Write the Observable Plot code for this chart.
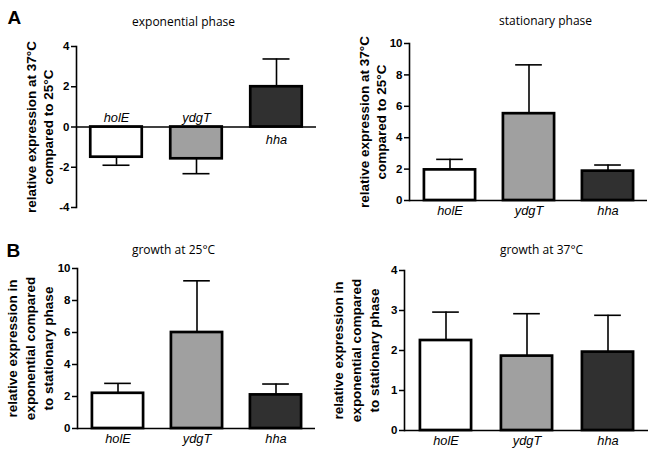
<!DOCTYPE html>
<html>
<head>
<meta charset="utf-8">
<script src="https://cdn.jsdelivr.net/npm/d3@7"></script>
<script src="https://cdn.jsdelivr.net/npm/@observablehq/plot@0.6"></script>
<style>
  html, body { margin: 0; padding: 0; background: #fff; }
  #wrap { position: relative; width: 650px; height: 451px; overflow: hidden; }
  .panel { position: absolute; }
  .panel svg { overflow: visible; }
  g[aria-label="y-axis tick label"] { font-weight: bold; font-family: "Liberation Sans", Arial, sans-serif; }
  g[aria-label="x-axis tick label"] { font-style: italic; font-family: "Liberation Sans", Arial, sans-serif; }
</style>
</head>
<body>
<div id="wrap"></div>
<script>
// ---- data ----
const genes = ["holE", "ydgT", "hha"];
const fills = ["#ffffff", "#a0a0a0", "#303030"];

const expTitle = "exponential phase";
const expMean = [-1.5, -1.58, 2.0];
const expErr = [-1.9, -2.32, 3.38];
const expTicks = [-4, -2, 0, 2, 4];

const statTitle = "stationary phase";
const statMean = [1.95, 5.53, 1.87];
const statErr = [2.62, 8.64, 2.26];
const statTicks = [0, 2, 4, 6, 8, 10];

const g25Title = "growth at 25°C";
const g25Mean = [2.2, 6.0, 2.1];
const g25Err = [2.82, 9.23, 2.78];
const g25Ticks = [0, 2, 4, 6, 8, 10];

const g37Title = "growth at 37°C";
const g37Mean = [2.25, 1.86, 1.96];
const g37Err = [2.96, 2.92, 2.88];
const g37Ticks = [0, 1, 2, 3, 4];

const labelA = "relative expression at 37°C\ncompared to 25°C";
const labelB = "relative expression in\nexponential compared\nto stationary phase";

// ---- drawing ----
const sans = "'Liberation Sans', Arial, sans-serif";

function panel(o) {
  const rows = genes.map((g, i) => ({gene: g, mean: o.mean[i], err: o.err[i], fill: fills[i]}));
  const fw = o.width - o.ml - o.mr;
  const band = fw / genes.length;
  const barInset = (band - 51.5) / 2;
  const capInset = (band - 27) / 2;
  const marks = [
    Plot.ruleX(rows, {x: "gene", y1: "mean", y2: "err", stroke: "black", strokeWidth: 1.6}),
    Plot.tickY(rows, {x: "gene", y: "err", stroke: "black", strokeWidth: 1.6, insetLeft: capInset, insetRight: capInset}),
    Plot.barY(rows, {x: "gene", y1: 0, y2: "mean", fill: "fill", stroke: "black", strokeWidth: 2.7, insetLeft: barInset, insetRight: barInset}),
    Plot.ruleY([0], {stroke: "black", strokeWidth: 1.6}),
    Plot.frame({anchor: "left", stroke: "black", strokeWidth: 1.6}),
    Plot.axisY({ticks: o.ticks, tickFormat: d => String(d), tickSize: 5, tickPadding: 2, label: null, fontSize: 11.5, fontWeight: "bold", strokeWidth: 1.5}),
    Plot.text([o.label], {frameAnchor: "left", rotate: -90, dx: o.labelDx, textAnchor: "middle", lineAnchor: "middle", lineHeight: o.lh, fontSize: 13.5, fontWeight: "bold", fontFamily: sans, text: d => d}),
    Plot.text([o.title], {frameAnchor: "top", dx: o.titleDx, dy: o.titleDy, textAnchor: "middle", lineAnchor: "middle", fontSize: 12, fontFamily: "'Open Sans', sans-serif", text: d => d})
  ];
  if (o.inline) {
    marks.push(Plot.text(rows.filter(d => d.mean < 0), {x: "gene", y: 0, text: "gene", lineAnchor: "bottom", dy: -5, fontSize: 12.8, fontStyle: "italic", fontFamily: sans}));
    marks.push(Plot.text(rows.filter(d => d.mean >= 0), {x: "gene", y: 0, text: "gene", lineAnchor: "top", dy: 8, fontSize: 12.8, fontStyle: "italic", fontFamily: sans}));
  } else {
    marks.push(Plot.axisX({tickSize: 0, tickPadding: 5, label: null, fontSize: 12.8}));
  }
  if (o.letter) {
    marks.push(Plot.text([o.letter], {frameAnchor: "top-left", dx: o.letterX - o.ml, dy: o.letterY - o.mt, textAnchor: "start", lineAnchor: "bottom", fontSize: 19, fontWeight: "bold", fontFamily: sans, text: d => d}));
  }
  const chart = Plot.plot({
    width: o.width, height: o.height,
    marginLeft: o.ml, marginRight: o.mr, marginTop: o.mt, marginBottom: o.mb,
    style: {fontFamily: sans, fontSize: "11px", color: "black", background: "transparent"},
    x: {domain: genes, padding: 0, axis: null},
    y: {domain: o.domain, axis: null},
    marks
  });
  const div = document.createElement("div");
  div.className = "panel";
  div.style.left = o.left + "px";
  div.style.top = o.top + "px";
  div.appendChild(chart);
  document.getElementById("wrap").appendChild(div);
}

panel({left: 0, top: 0, width: 325, height: 225, ml: 76, mr: 9, mt: 46, mb: 18,
  mean: expMean, err: expErr, ticks: expTicks, domain: [-4, 4], title: expTitle, titleDx: -13, titleDy: -24,
  label: labelA, labelDx: -37, lh: 1.25, inline: true, letter: "A", letterX: 7, letterY: 23});
panel({left: 325, top: 0, width: 325, height: 225, ml: 84, mr: 3, mt: 43, mb: 25,
  mean: statMean, err: statErr, ticks: statTicks, domain: [0, 10], title: statTitle, titleDx: 17, titleDy: -22,
  label: labelA, labelDx: -37, lh: 1.25});
panel({left: 0, top: 225, width: 325, height: 226, ml: 77, mr: 10, mt: 43, mb: 23,
  mean: g25Mean, err: g25Err, ticks: g25Ticks, domain: [0, 10], title: g25Title, titleDx: -23, titleDy: -18,
  label: labelB, labelDx: -48, lh: 1.33, letter: "B", letterX: 6, letterY: 31});
panel({left: 325, top: 225, width: 325, height: 226, ml: 79, mr: 2, mt: 45, mb: 21,
  mean: g37Mean, err: g37Err, ticks: g37Ticks, domain: [0, 4], title: g37Title, titleDx: 15, titleDy: -20,
  label: labelB, labelDx: -49, lh: 1.33});
</script>
</body>
</html>
